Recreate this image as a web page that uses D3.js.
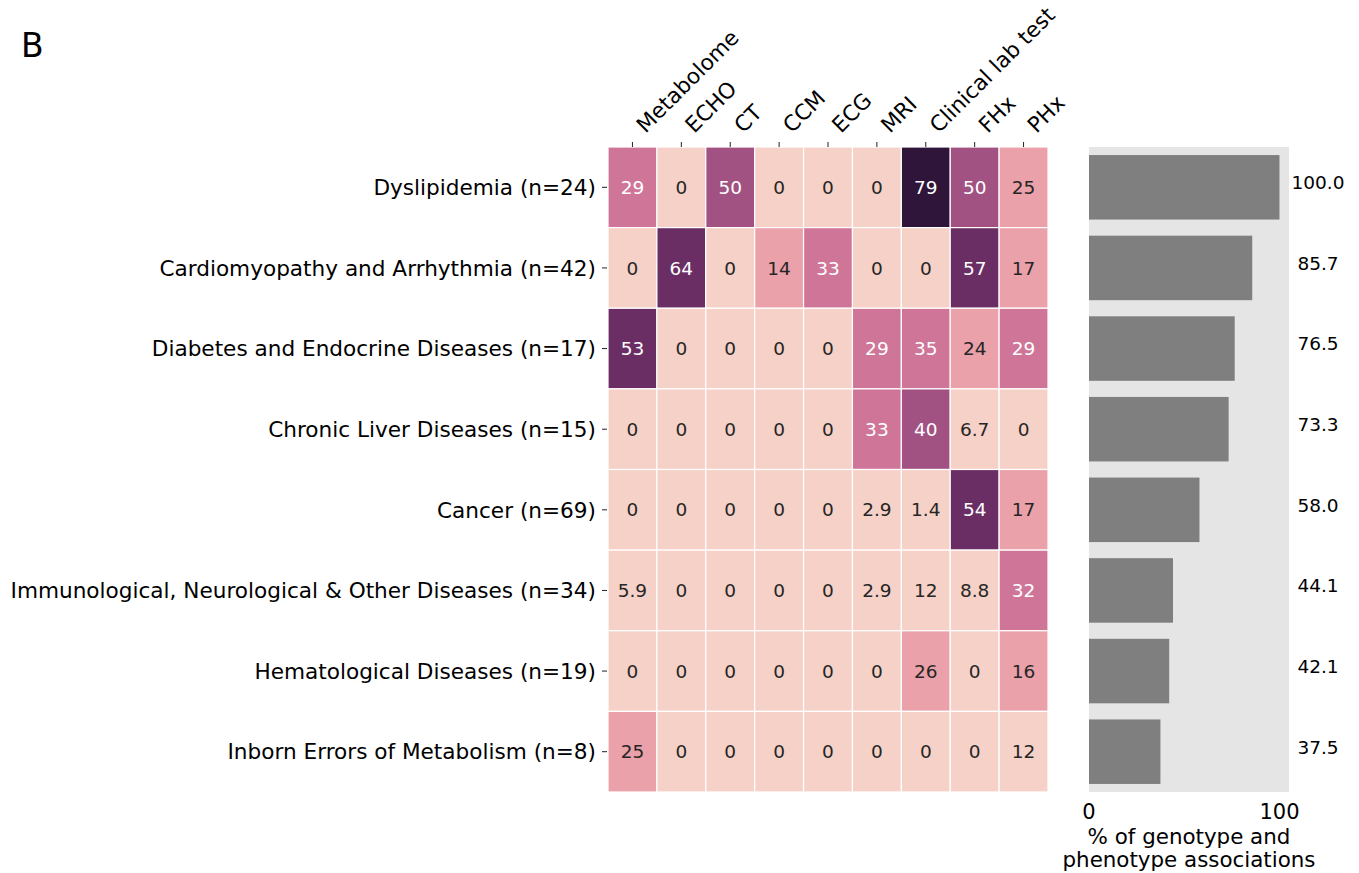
<!DOCTYPE html>
<html>
<head>
<meta charset="utf-8">
<script src="https://cdn.jsdelivr.net/npm/d3@7"></script>
<style>
  html, body { margin: 0; padding: 0; background: #fff; }
  svg { display: block; }
  text { font-family: "DejaVu Sans", sans-serif; }
</style>
</head>
<body>
<svg id="chart" width="1359" height="873"></svg>
<script>
// ---------------- data ----------------
const diseases = [
  "Dyslipidemia (n=24)",
  "Cardiomyopathy and Arrhythmia (n=42)",
  "Diabetes and Endocrine Diseases (n=17)",
  "Chronic Liver Diseases (n=15)",
  "Cancer (n=69)",
  "Immunological, Neurological & Other Diseases (n=34)",
  "Hematological Diseases (n=19)",
  "Inborn Errors of Metabolism (n=8)"
];
const modalities = ["Metabolome", "ECHO", "CT", "CCM", "ECG", "MRI", "Clinical lab test", "FHx", "PHx"];
const dyslipidemia   = [29, 0, 50, 0, 0, 0, 79, 50, 25];
const cardiomyopathy = [0, 64, 0, 14, 33, 0, 0, 57, 17];
const diabetes       = [53, 0, 0, 0, 0, 29, 35, 24, 29];
const liver          = [0, 0, 0, 0, 0, 33, 40, 6.7, 0];
const cancer         = [0, 0, 0, 0, 0, 2.9, 1.4, 54, 17];
const immunological  = [5.9, 0, 0, 0, 0, 2.9, 12, 8.8, 32];
const hematological  = [0, 0, 0, 0, 0, 0, 26, 0, 16];
const inborn         = [25, 0, 0, 0, 0, 0, 0, 0, 12];
const matrix = [dyslipidemia, cardiomyopathy, diabetes, liver, cancer, immunological, hematological, inborn];
const associationPct = [100.0, 85.7, 76.5, 73.3, 58.0, 44.1, 42.1, 37.5];
const barTicks = [0, 100];
const panelLetter = "B";
const barAxisLabel = ["% of genotype and", "phenotype associations"];

// ---------------- palette (6-step pink→purple) ----------------
const palHex = ["#f5d1c7", "#eaa1a9", "#cf7598", "#a25282", "#6a2e65", "#2e1539"];
const darkText = [true, true, false, false, false, false];
const color = d3.scaleQuantize().domain([0, 79]).range(d3.range(6));

// ---------------- layout ----------------
const svg = d3.select("#chart");
const hm = { left: 608, right: 1048, top: 147, bottom: 792 };
const bc = { left: 1089, right: 1289 };
const labelSize = 21.6;

const x = d3.scaleBand().domain(modalities).range([hm.left, hm.right]);
const y = d3.scaleBand().domain(diseases).range([hm.top, hm.bottom]);

// cells
const cells = [];
matrix.forEach((row, i) => row.forEach((v, j) => cells.push({ r: diseases[i], c: modalities[j], v })));

const g = svg.append("g");
g.selectAll("rect.cell").data(cells).enter().append("rect")
  .attr("class", "cell")
  .attr("x", d => x(d.c)).attr("y", d => y(d.r))
  .attr("width", x.bandwidth()).attr("height", y.bandwidth())
  .attr("fill", d => palHex[color(d.v)])
  .attr("stroke", "#fff").attr("stroke-width", 1.2);

const fmt = d3.format(".2~g");
g.selectAll("text.ann").data(cells).enter().append("text")
  .attr("class", "ann")
  .attr("x", d => x(d.c) + x.bandwidth() / 2)
  .attr("y", d => y(d.r) + y.bandwidth() / 2)
  .attr("dy", "0.36em")
  .attr("text-anchor", "middle")
  .attr("font-size", 18.5)
  .attr("fill", d => darkText[color(d.v)] ? "#262626" : "#ffffff")
  .text(d => fmt(d.v));

// top axis (column labels)
const xAxis = svg.append("g");
xAxis.selectAll("line").data(modalities).enter().append("line")
  .attr("x1", d => x(d) + x.bandwidth() / 2).attr("x2", d => x(d) + x.bandwidth() / 2)
  .attr("y1", hm.top - 5).attr("y2", hm.top)
  .attr("stroke", "#222").attr("stroke-width", 1);
xAxis.selectAll("text").data(modalities).enter().append("text")
  .attr("transform", d => `translate(${x(d) + x.bandwidth() / 2 + 13},${hm.top - 13}) rotate(-45)`)
  .attr("text-anchor", "start")
  .attr("font-size", labelSize)
  .attr("fill", "#000")
  .text(d => d);

// left axis (row labels)
const yAxis = svg.append("g");
yAxis.selectAll("line").data(diseases).enter().append("line")
  .attr("x1", hm.left - 6).attr("x2", hm.left - 1)
  .attr("y1", d => y(d) + y.bandwidth() / 2).attr("y2", d => y(d) + y.bandwidth() / 2)
  .attr("stroke", "#222").attr("stroke-width", 1);
yAxis.selectAll("text").data(diseases).enter().append("text")
  .attr("x", hm.left - 12)
  .attr("y", d => y(d) + y.bandwidth() / 2)
  .attr("dy", "0.36em")
  .attr("text-anchor", "end")
  .attr("font-size", labelSize)
  .attr("fill", "#000")
  .text(d => d);

// ---------------- bar chart ----------------
const xb = d3.scaleLinear().domain([0, 105]).range([bc.left, bc.right]);
const yb = d3.scaleBand().domain(diseases).range([hm.top, hm.bottom]).paddingInner(0.2).paddingOuter(0.1);

svg.append("rect")
  .attr("x", xb(0)).attr("y", hm.top)
  .attr("width", xb(105) - xb(0)).attr("height", hm.bottom - hm.top)
  .attr("fill", "#e5e5e5");

const bars = diseases.map((d, i) => ({ d, v: associationPct[i] }));
svg.selectAll("rect.bar").data(bars).enter().append("rect")
  .attr("class", "bar")
  .attr("x", xb(0)).attr("y", d => yb(d.d))
  .attr("width", d => xb(d.v) - xb(0)).attr("height", yb.bandwidth())
  .attr("fill", "#7f7f7f");

svg.selectAll("text.barval").data(bars).enter().append("text")
  .attr("class", "barval")
  .attr("x", 1318)
  .attr("y", d => y(d.d) + y.bandwidth() / 2)
  .attr("dy", "0.1em")
  .attr("text-anchor", "middle")
  .attr("font-size", 18.5)
  .attr("fill", "#000")
  .text(d => d3.format(".1f")(d.v));

svg.selectAll("text.btick").data(barTicks).enter().append("text")
  .attr("class", "btick")
  .attr("x", d => xb(d))
  .attr("y", 819)
  .attr("text-anchor", "middle")
  .attr("font-size", 21)
  .attr("fill", "#000")
  .text(d => d);

svg.selectAll("text.blabel").data(barAxisLabel).enter().append("text")
  .attr("class", "blabel")
  .attr("x", 1189)
  .attr("y", (d, i) => 844 + i * 23)
  .attr("text-anchor", "middle")
  .attr("font-size", 21.4)
  .attr("fill", "#000")
  .text(d => d);

// panel letter
svg.append("text")
  .attr("x", 21).attr("y", 57)
  .attr("font-family", "'Liberation Sans', Arial, sans-serif")
  .attr("font-size", 33)
  .attr("fill", "#000")
  .text(panelLetter);
</script>
</body>
</html>
